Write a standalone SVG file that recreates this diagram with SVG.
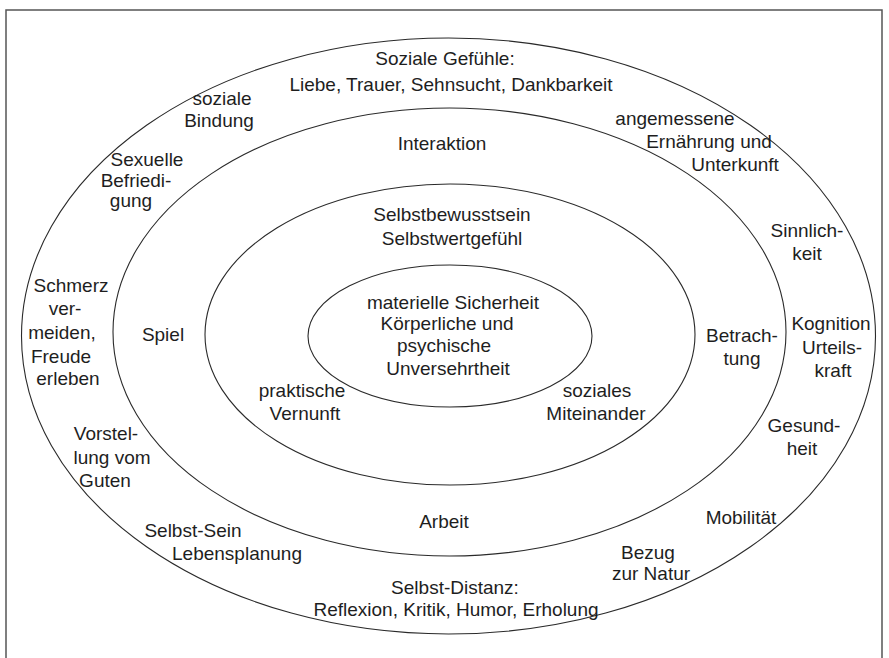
<svg xmlns="http://www.w3.org/2000/svg" width="889" height="658" viewBox="0 0 889 658">
<style>
.ring{fill:none;stroke:#2a2a2a;stroke-width:1.1}
.frame{fill:none;stroke:#555;stroke-width:1.5}
text{font-family:"Liberation Sans",Arial,sans-serif;font-size:19px;fill:#1e1e1e;text-anchor:middle}
</style>
<rect width="889" height="658" fill="#fff"/>
<rect class="frame" x="6" y="10" width="876" height="660"/>
<g id="rings">
<ellipse class="ring" cx="448.5" cy="336" rx="427" ry="298"/>
<ellipse class="ring" cx="449.5" cy="332" rx="336.5" ry="224"/>
<ellipse class="ring" cx="450" cy="334.5" rx="245" ry="150.5"/>
<ellipse class="ring" cx="450" cy="336" rx="142" ry="71"/>
</g>
<g id="connectors"/>
<g id="soziale-gefuehle"><text x="445" y="65">Soziale Gefühle:</text><text x="451" y="91">Liebe, Trauer, Sehnsucht, Dankbarkeit</text></g>
<g id="soziale-bindung"><text x="222" y="105">soziale</text><text x="219" y="127">Bindung</text></g>
<g id="ernaehrung"><text x="675" y="125">angemessene</text><text x="709" y="148">Ernährung und</text><text x="735" y="171">Unterkunft</text></g>
<g id="interaktion"><text x="442" y="150">Interaktion</text></g>
<g id="sexuelle"><text x="147" y="166">Sexuelle</text><text x="136" y="187">Befriedi-</text><text x="131" y="207">gung</text></g>
<g id="selbstbewusstsein"><text x="452" y="221">Selbstbewusstsein</text><text x="452" y="245">Selbstwertgefühl</text></g>
<g id="sinnlichkeit"><text x="807" y="237">Sinnlich-</text><text x="807" y="260">keit</text></g>
<g id="schmerz"><text x="71" y="292">Schmerz</text><text x="65" y="315">ver-</text><text x="62" y="339">meiden,</text><text x="61" y="363">Freude</text><text x="68" y="385">erleben</text></g>
<g id="spiel"><text x="163" y="341">Spiel</text></g>
<g id="zentrum"><text x="453" y="309">materielle Sicherheit</text><text x="447" y="330">Körperliche und</text><text x="444" y="352">psychische</text><text x="448" y="375">Unversehrtheit</text></g>
<g id="betrachtung"><text x="742" y="342">Betrach-</text><text x="742" y="365">tung</text></g>
<g id="kognition"><text x="831" y="330">Kognition</text><text x="832" y="354">Urteils-</text><text x="833" y="377">kraft</text></g>
<g id="praktische-vernunft"><text x="302" y="397">praktische</text><text x="305" y="420">Vernunft</text></g>
<g id="soziales-miteinander"><text x="597" y="397">soziales</text><text x="596" y="420">Miteinander</text></g>
<g id="gesundheit"><text x="804" y="432">Gesund-</text><text x="802" y="455">heit</text></g>
<g id="vorstellung"><text x="106" y="440">Vorstel-</text><text x="112" y="464">lung vom</text><text x="105" y="487">Guten</text></g>
<g id="mobilitaet"><text x="741" y="524">Mobilität</text></g>
<g id="arbeit"><text x="444" y="528">Arbeit</text></g>
<g id="selbst-sein"><text x="193" y="537">Selbst-Sein</text><text x="237" y="560">Lebensplanung</text></g>
<g id="natur"><text x="648" y="559">Bezug</text><text x="651" y="580">zur Natur</text></g>
<g id="selbst-distanz"><text x="455" y="594">Selbst-Distanz:</text><text x="456" y="616">Reflexion, Kritik, Humor, Erholung</text></g>
</svg>
